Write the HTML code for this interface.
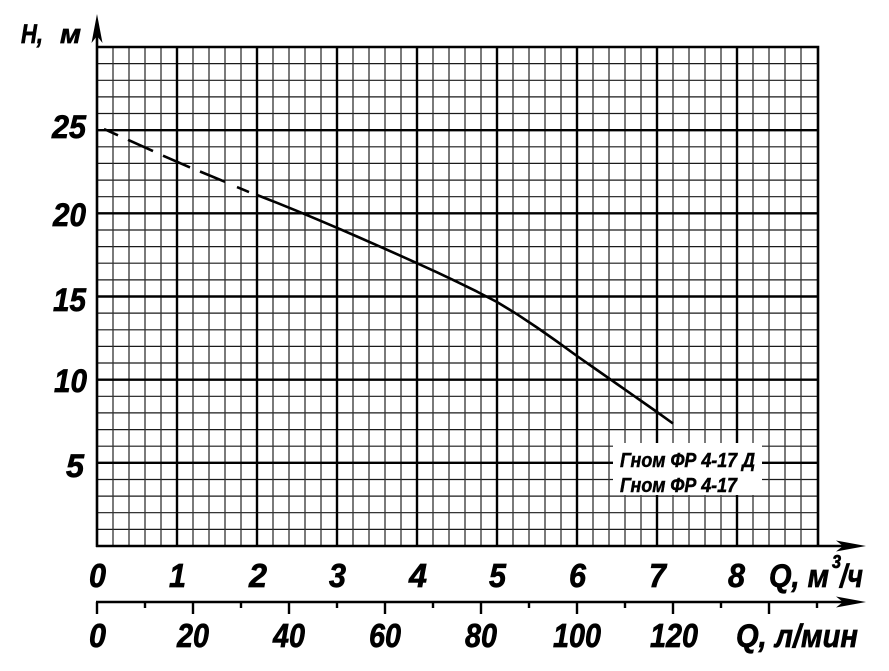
<!DOCTYPE html>
<html>
<head>
<meta charset="utf-8">
<style>
  html, body { margin: 0; padding: 0; background: #fff; }
  body { width: 889px; height: 671px; overflow: hidden; }
  svg { display: block; }
  text { font-family: "Liberation Sans", "DejaVu Sans", sans-serif; font-weight: bold; font-style: italic; fill: #000; stroke: #000; stroke-width: 0.7; }
  text.lg { stroke-width: 0.5; }
</style>
</head>
<body>
<svg width="889" height="671" viewBox="0 0 889 671" xmlns="http://www.w3.org/2000/svg">
  <rect x="0" y="0" width="889" height="671" fill="#fff"/>

  <!-- minor horizontal grid -->
  <path fill="none" stroke="#1a1a1a" stroke-width="1.2"
    d="M97 63.6H817 M97 80.3H817 M97 96.9H817 M97 113.5H817
       M97 146.8H817 M97 163.4H817 M97 180.1H817 M97 196.7H817
       M97 230H817 M97 246.6H817 M97 263.2H817 M97 279.9H817
       M97 313.1H817 M97 329.8H817 M97 346.4H817 M97 363H817
       M97 396.3H817 M97 412.9H817 M97 429.6H817 M97 446.2H817
       M97 479.5H817 M97 496.1H817 M97 512.7H817 M97 529.4H817"/>

  <!-- minor vertical grid -->
  <path fill="none" stroke="#333" stroke-width="1.3"
    d="M113 47V546 M129 47V546 M145 47V546 M161 47V546
       M193 47V546 M209 47V546 M225 47V546 M241 47V546
       M273 47V546 M289 47V546 M305 47V546 M321 47V546
       M353 47V546 M369 47V546 M385 47V546 M401 47V546
       M433 47V546 M449 47V546 M465 47V546 M481 47V546
       M513 47V546 M529 47V546 M545 47V546 M561 47V546
       M593 47V546 M609 47V546 M625 47V546 M641 47V546
       M673 47V546 M689 47V546 M705 47V546 M721 47V546
       M753 47V546 M769 47V546 M785 47V546 M801 47V546"/>

  <!-- major grid -->
  <path fill="none" stroke="#000" stroke-width="2.4"
    d="M97 130.2H817 M97 213.3H817 M97 296.5H817 M97 379.7H817 M97 462.8H817
       M177 47V546 M257 47V546 M337 47V546 M417 47V546 M497 47V546
       M577 47V546 M657 47V546 M737 47V546"/>

  <!-- border -->
  <path fill="none" stroke="#000" stroke-width="2.6" d="M97 47H818V546"/>

  <!-- legend white box -->
  <rect x="613" y="443" width="149" height="52" fill="#fff"/>
  <text class="lg" x="620" y="467" font-size="20" textLength="135" lengthAdjust="spacingAndGlyphs">Гном ФР 4-17 Д</text>
  <text class="lg" x="620" y="492" font-size="20" textLength="117" lengthAdjust="spacingAndGlyphs">Гном ФР 4-17</text>

  <!-- Y axis -->
  <line x1="97" y1="547" x2="97" y2="30" stroke="#000" stroke-width="2.6"/>
  <polygon points="97,14 102.5,43 97,36 91.5,43" fill="#000"/>

  <!-- X axis (m3/h) -->
  <line x1="96" y1="546" x2="845" y2="546" stroke="#000" stroke-width="2.6"/>
  <polygon points="866,546 836,540.5 843,546 836,551.5" fill="#000"/>

  <!-- X axis (l/min) -->
  <line x1="96" y1="602" x2="845" y2="602" stroke="#000" stroke-width="2.4"/>
  <polygon points="866,602 836,596.5 843,602 836,607.5" fill="#000"/>
  <path fill="none" stroke="#000" stroke-width="2.4"
    d="M97 602V614 M193 602V614 M289 602V614 M385 602V614 M481 602V614
       M577 602V614 M673 602V614 M769 602V614
       M145 602V608 M241 602V608 M337 602V608 M433 602V608 M529 602V608
       M625 602V608 M721 602V608 M817 602V608"/>

  <!-- curve: dashed part -->
  <path fill="none" stroke="#000" stroke-width="2.6" stroke-linecap="butt"
    d="M104 129L118 135.3 M128 139.8L153 151.1 M163 155.7L190 167.4 M200 171.5L225 181.8 M237 187.1L249 192.1"/>
  <!-- curve: solid part -->
  <path fill="none" stroke="#000" stroke-width="2.6" stroke-linejoin="round"
    d="M257 195 L277 202.8 L297 210.9 L317 219.3 L337 227.8 L357 236.5 L377 245.3 L397 254.2 L417 263.2
       L437 272.3 L457 281.8 L477 291.6 L497 302 L517 314.2 L537 327.5 L557 341.5 L577 356 L597 370
       L617 384 L637 398 L657 412 L673 423.5"/>

  <!-- Y labels -->
  <text x="21" y="43" font-size="27" textLength="22" lengthAdjust="spacingAndGlyphs">H,</text>
  <text x="60" y="43" font-size="27" textLength="21" lengthAdjust="spacingAndGlyphs">м</text>

  <text x="52" y="138" font-size="32" textLength="34" lengthAdjust="spacingAndGlyphs">25</text>
  <text x="53" y="226" font-size="32" textLength="33" lengthAdjust="spacingAndGlyphs">20</text>
  <text x="53" y="311" font-size="32" textLength="33" lengthAdjust="spacingAndGlyphs">15</text>
  <text x="54" y="392" font-size="32" textLength="33" lengthAdjust="spacingAndGlyphs">10</text>
  <text x="66" y="477" font-size="32" textLength="18" lengthAdjust="spacingAndGlyphs">5</text>

  <!-- X labels row 1 (m3/h) -->
  <g font-size="33">
    <text x="89" y="587" textLength="17" lengthAdjust="spacingAndGlyphs">0</text>
    <text x="169" y="587" textLength="17" lengthAdjust="spacingAndGlyphs">1</text>
    <text x="249" y="587" textLength="18" lengthAdjust="spacingAndGlyphs">2</text>
    <text x="329" y="587" textLength="17" lengthAdjust="spacingAndGlyphs">3</text>
    <text x="409" y="587" textLength="18" lengthAdjust="spacingAndGlyphs">4</text>
    <text x="489" y="587" textLength="17" lengthAdjust="spacingAndGlyphs">5</text>
    <text x="569" y="587" textLength="17" lengthAdjust="spacingAndGlyphs">6</text>
    <text x="649" y="587" textLength="17" lengthAdjust="spacingAndGlyphs">7</text>
    <text x="728" y="587" textLength="17" lengthAdjust="spacingAndGlyphs">8</text>
  </g>
  <text x="769" y="587" font-size="32" textLength="60" lengthAdjust="spacingAndGlyphs">Q, м</text>
  <text x="832" y="568" font-size="18" textLength="9" lengthAdjust="spacingAndGlyphs">3</text>
  <text x="840" y="587" font-size="32" textLength="23" lengthAdjust="spacingAndGlyphs">/ч</text>

  <!-- X labels row 2 (l/min) -->
  <g font-size="33">
    <text x="89" y="647" textLength="17" lengthAdjust="spacingAndGlyphs">0</text>
    <text x="177" y="647" textLength="32" lengthAdjust="spacingAndGlyphs">20</text>
    <text x="273" y="647" textLength="32" lengthAdjust="spacingAndGlyphs">40</text>
    <text x="369" y="647" textLength="32" lengthAdjust="spacingAndGlyphs">60</text>
    <text x="465" y="647" textLength="32" lengthAdjust="spacingAndGlyphs">80</text>
    <text x="553" y="647" textLength="48" lengthAdjust="spacingAndGlyphs">100</text>
    <text x="650" y="647" textLength="48" lengthAdjust="spacingAndGlyphs">120</text>
  </g>
  <text x="736" y="647" font-size="32" textLength="122" lengthAdjust="spacingAndGlyphs">Q, л/мин</text>
</svg>
</body>
</html>
